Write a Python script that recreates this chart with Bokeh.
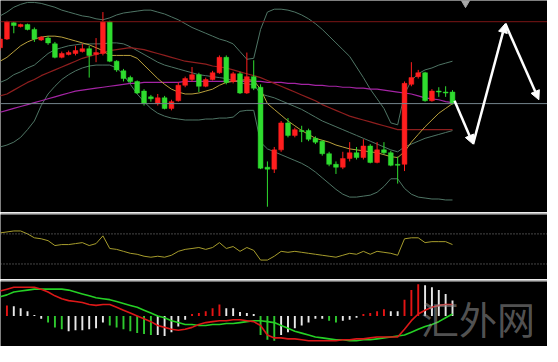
from bokeh.plotting import figure
from bokeh.layouts import column
from bokeh.models import ColumnDataSource, Range1d, Span, Arrow, NormalHead, Label
from bokeh.embed import file_html
from bokeh.resources import INLINE

# ---------------- data ----------------
bar_index = list(range(-1, 66))

open_ = [171,
         180, 197, 193, 195, 190, 179, 181, 175, 161, 164,
         165, 167, 170, 164, 165, 198, 157, 147, 140, 136,
         126, 120, 113, 119, 108, 116, 132, 138, 143, 131,
         138, 145, 161, 136, 144, 124, 141, 130, 47, 45,
         65, 93, 80, 85, 85, 77, 74, 61, 50, 47,
         56, 62, 57, 69, 52, 65, 62, 50, 50, 133,
         141, 145, 116, 126, 125, 125]
close = [180,
         198, 194, 195, 190, 180, 182, 176, 161, 165, 166,
         168, 170, 163, 166, 198, 157, 148, 139, 136, 124,
         113, 118, 119, 108, 115, 132, 139, 143, 131, 138,
         145, 161, 135, 144, 124, 141, 129, 46, 45, 65,
         93, 80, 86, 84, 76, 73, 61, 50, 47, 56,
         62, 57, 69, 52, 65, 62, 49, 49, 134, 140,
         145, 116, 126, 125, 124, 113]
high = [183,
        199, 198, 196, 196, 192, 183, 183, 177, 167, 168,
        173, 175, 173, 181, 208, 199, 158, 149, 142, 137,
        128, 122, 123, 121, 117, 135, 141, 151, 145, 140,
        147, 163, 163, 146, 146, 166, 158, 133, 53, 68,
        95, 98, 88, 90, 87, 79, 75, 63, 53, 63,
        73, 68, 76, 71, 73, 73, 64, 58, 136, 156,
        148, 146, 128, 130, 131, 127]
low = [168,
       179, 186, 192, 189, 177, 178, 174, 160, 160, 163,
       163, 166, 140, 156, 163, 156, 146, 136, 134, 123,
       111, 115, 111, 107, 106, 115, 130, 136, 125, 130,
       137, 144, 133, 134, 123, 123, 127, 45, 6, 41,
       63, 78, 78, 73, 74, 71, 59, 48, 40, 45,
       53, 55, 55, 51, 51, 60, 48, 30, 43, 131,
       139, 115, 115, 120, 120, 112]

bb_upper = [204,
            208, 213, 216, 218, 218, 217, 215, 213, 210, 208,
            206, 204, 203, 201, 200, 202, 205, 207, 208, 209,
            210, 210, 208, 206, 203, 200, 196, 192, 189, 186,
            183, 180, 178, 175, 167, 159, 160, 190, 208, 211,
            211, 210, 208, 205, 201, 196, 190, 183, 176, 169,
            162, 151, 140, 128, 118, 108, 93, 91, 123, 137,
            144, 148, 150, 153, 155, 157]
bb_middle = [135,
             138, 143, 146, 150, 153, 159, 165, 169, 171, 173,
             174, 175, 175, 175, 175, 176, 176, 175, 172, 168,
             164, 160, 156, 153, 151, 149, 147, 145, 143, 142,
             141, 140, 139, 137, 135, 133, 133, 123, 121, 119,
             116, 113, 110, 107, 103, 99, 95, 92, 89, 86,
             83, 80, 77, 74, 71, 68, 65, 63, 68, 71,
             74, 77, 79, 81, 83, 85]
bb_lower = [68,
            70, 73, 78, 86, 95, 111, 123, 131, 138, 143,
            147, 150, 152, 153, 153, 153, 150, 143, 133, 123,
            115, 108, 103, 100, 98, 97, 96, 96, 96, 97,
            97, 98, 98, 99, 105, 106, 106, 73, 66, 63,
            60, 57, 54, 51, 47, 42, 36, 30, 24, 19,
            16, 16, 17, 18, 21, 27, 35, 35, 25, 19,
            16, 15, 14, 14, 13, 13]
ma_fast = [157,
           161, 167, 173, 177, 180, 182, 183, 183, 182, 180,
           178, 176, 174, 171, 168, 163, 163, 163, 163, 160,
           153, 146, 139, 133, 128, 125, 123, 123, 124, 126,
           128, 132, 135, 136, 137, 138, 137, 128, 113, 107,
           101, 95, 90, 85, 81, 77, 75, 73, 70, 68,
           66, 65, 64, 63, 62, 60, 58, 57, 63, 73,
           81, 89, 96, 103, 108, 113]
ma_mid = [121,
          123, 127, 131, 135, 138, 142, 145, 148, 151, 154,
          157, 160, 162, 164, 166, 168, 169, 170, 171, 170,
          169, 167, 165, 163, 161, 159, 157, 156, 155, 154,
          152, 151, 150, 148, 146, 144, 142, 140, 137, 134,
          131, 128, 125, 122, 119, 116, 112, 109, 106, 103,
          100, 98, 96, 94, 92, 90, 88, 86, 86, 86,
          86, 86, 86, 86, 86, 86]
ma_slow = [104,
           106, 108, 110, 112, 114, 116, 118, 120, 122, 124,
           126, 127, 128, 129, 130, 131, 132, 133, 134, 134,
           135, 135, 135, 135, 135, 135, 136, 136, 136, 136,
           136, 136, 136, 136, 136, 136, 136, 136, 135, 135,
           135, 134, 134, 133, 133, 132, 132, 131, 131, 130,
           130, 129, 129, 128, 128, 127, 126, 125, 124, 123,
           121, 119, 118, 117, 115, 114]

resistance_level = 198
pivot_level = 113

forecast_x = [65.3, 68.0, 72.7, 77.6]
forecast_y = [116, 71, 196, 117]
shift_marker_x = 66.9
shift_marker_y = 218

oscillator = [71.3,
              72.6, 73.9, 73.9, 70.0, 64.8, 63.5, 61.0, 54.5, 55.8, 55.8,
              57.1, 58.4, 54.5, 57.1, 67.4, 50.6, 49.4, 46.8, 44.2, 42.9,
              40.3, 39.0, 40.3, 39.0, 41.6, 46.8, 49.4, 50.6, 51.9, 49.4,
              51.9, 58.4, 50.6, 53.2, 46.8, 51.9, 48.1, 35.2, 35.2, 40.3,
              46.8, 45.5, 46.8, 45.5, 44.2, 42.9, 41.6, 40.3, 39.0, 41.6,
              44.2, 42.9, 46.8, 42.9, 46.8, 45.5, 44.2, 41.6, 63.5, 64.8,
              64.8, 58.4, 59.7, 59.7, 59.7, 55.8]
osc_levels = [70, 30]

macd_line = [2.6,
             2.8, 3.0, 3.0, 3.0, 3.0, 2.8, 2.5, 2.1, 1.8, 1.6,
             1.5, 1.4, 1.2, 1.1, 1.2, 1.2, 0.9, 0.6, 0.3, 0.0,
             -0.3, -0.6, -1.0, -1.2, -1.4, -1.5, -1.4, -1.2, -0.9, -0.7,
             -0.6, -0.5, -0.5, -0.4, -0.4, -0.5, -0.6, -1.0, -2.0, -2.3,
             -2.3, -2.4, -2.4, -2.5, -2.6, -2.6, -2.6, -2.6, -2.6, -2.5,
             -2.5, -2.4, -2.4, -2.3, -2.2, -2.2, -2.2, -2.2, -1.4, -0.5,
             0.2, 0.6, 0.9, 1.1, 1.2, 1.2]
signal_line = [2.0,
               2.2, 2.5, 2.6, 2.7, 2.8, 2.8, 2.8, 2.8, 2.8, 2.7,
               2.5, 2.3, 2.1, 1.9, 1.8, 1.7, 1.5, 1.3, 1.1, 0.9,
               0.6, 0.3, 0.0, -0.2, -0.5, -0.7, -0.9, -0.9, -1.0, -1.0,
               -0.9, -0.9, -0.8, -0.8, -0.7, -0.6, -0.5, -0.5, -0.6, -0.7,
               -1.0, -1.3, -1.6, -1.8, -2.0, -2.2, -2.3, -2.4, -2.5, -2.5,
               -2.6, -2.6, -2.5, -2.5, -2.4, -2.3, -2.2, -2.1, -2.0, -1.7,
               -1.4, -1.1, -0.9, -0.6, -0.2, 0.2]

hist_index = list(range(0, 66))
histogram = [1.1, 1.0, 0.8, 0.5, 0.1, -0.3, -0.7, -1.2, -1.4, -1.6,
             -1.5, -1.5, -1.4, -1.3, -0.7, -1.0, -1.2, -1.4, -1.6, -1.8,
             -1.9, -2.0, -2.0, -2.1, -1.7, -1.1, -0.4, 0.2, 0.3, 0.5,
             0.8, 1.2, 0.8, 0.8, 0.4, 0.3, 0.2, -2.0, -2.5, -2.6,
             -2.0, -1.7, -1.3, -1.0, -0.7, -0.3, -0.3, -0.5, -0.7, -0.5,
             -0.4, -0.2, 0.2, 0.3, 0.5, 0.7, 0.5, 0.5, 1.7, 2.7,
             3.3, 3.2, 3.0, 2.7, 2.3, 1.6]
hist_state = (["up"] + ["fade"] * 5 + ["down"] * 3 + ["fade"] * 6 + ["down"] * 7
              + ["fade"] * 5 + ["up"] * 5 + ["fade"] * 5 + ["down"] * 3 + ["fade"] * 7
              + ["down"] * 2 + ["fade"] * 3 + ["up"] * 4 + ["fade"] * 2 + ["up"] * 3
              + ["fade"] * 5)

# ---------------- styling ----------------
BG = "black"
SEP = "#b4b4b4"
UP = "#ff1e1e"
DOWN = "#2fdc2f"
STATE_COLORS = {"up": "#e41414", "fade": "#e8e8e8", "down": "#2ec82e"}

x_range = Range1d(-0.94, 78.86)


def panel(h, y_range, top_border=0):
    p = figure(width=547, height=h, x_range=x_range, y_range=y_range,
               output_backend="svg", toolbar_location=None, title=None,
               x_axis_location=None, y_axis_location=None,
               background_fill_color=BG,
               border_fill_color=SEP if top_border else BG,
               min_border_left=0, min_border_right=0, min_border_bottom=0,
               min_border_top=top_border, outline_line_color=None)
    p.grid.visible = False
    return p


# ---------------- main price panel ----------------
main = panel(212, Range1d(0, 220))

main.add_layout(Span(location=resistance_level, dimension="width",
                     line_color="#7c1616", line_width=1))
main.add_layout(Span(location=pivot_level, dimension="width",
                     line_color="#74858d", line_width=1))

band_color = "#4f7565"
main.line(bar_index, bb_upper, line_color=band_color, line_width=1)
main.line(bar_index, bb_lower, line_color=band_color, line_width=1)
main.line(bar_index, bb_middle, line_color=band_color, line_width=1)
main.line(bar_index, ma_slow, line_color="#a424a4", line_width=1.2)
main.line(bar_index, ma_mid, line_color="#8e1e1e", line_width=1.2)
main.line(bar_index, ma_fast, line_color="#b9a03c", line_width=1)

candle_colors = [UP if c > o else DOWN for o, c in zip(open_, close)]
candles = ColumnDataSource(dict(
    x=bar_index, high=high, low=low,
    top=[max(o, c) for o, c in zip(open_, close)],
    bottom=[min(o, c) for o, c in zip(open_, close)],
    color=candle_colors))
main.segment(x0="x", y0="high", x1="x", y1="low", source=candles,
             line_color="color", line_width=1)
main.vbar(x="x", top="top", bottom="bottom", width=0.7, source=candles,
          fill_color="color", line_color="color", line_width=0.5)

arrows = ColumnDataSource(dict(x0=forecast_x[:-1], y0=forecast_y[:-1],
                               x1=forecast_x[1:], y1=forecast_y[1:]))
main.add_layout(Arrow(end=NormalHead(size=9, fill_color="white", line_color="white"),
                      x_start="x0", y_start="y0", x_end="x1", y_end="y1",
                      source=arrows, line_color="white", line_width=2.5))

main.scatter([shift_marker_x], [shift_marker_y], marker="inverted_triangle",
             size=9, color="#a8a8a8")

# ---------------- oscillator panel ----------------
osc = panel(67, Range1d(9.35, 95.8), top_border=2)
for lvl in osc_levels:
    osc.add_layout(Span(location=lvl, dimension="width", line_color="#8a8a8a",
                        line_width=1, line_dash="1 2"))
osc.line(bar_index, oscillator, line_color="#a69c2c", line_width=1)

# ---------------- MACD panel ----------------
macd = panel(67, Range1d(-3.2, 3.6), top_border=2)
hist_src = ColumnDataSource(dict(x=hist_index, top=histogram,
                                 color=[STATE_COLORS[s] for s in hist_state]))
macd.vbar(x="x", top="top", bottom=0, width=0.28, source=hist_src,
          fill_color="color", line_color=None)
macd.line(bar_index, signal_line, line_color="#25d025", line_width=1.6)
macd.line(bar_index, macd_line, line_color="#dc1818", line_width=1.6)

macd.add_layout(Label(x=60.4, y=-0.2, text="汇外网", text_font="Noto Sans CJK SC",
                      text_font_size="38px", text_color="#9a9a9a", text_alpha=0.55,
                      text_baseline="middle", text_align="left"))

layout = column(main, osc, macd, spacing=0)

open("out.html", "w").write(file_html(layout, INLINE))
